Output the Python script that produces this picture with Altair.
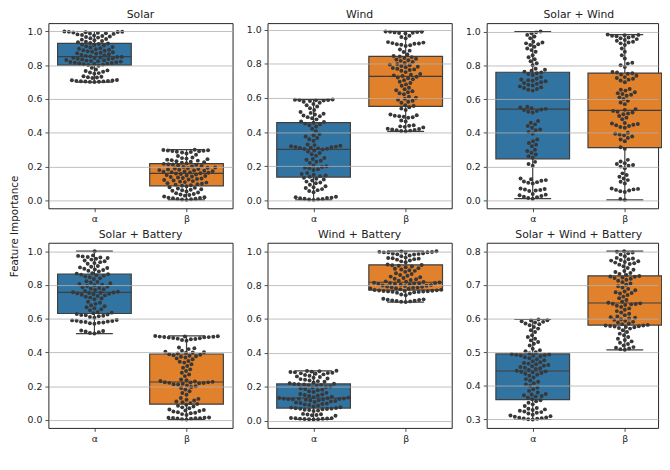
import math
import altair as alt
import pandas as pd

cats = ["α", "β"]
box_colors = ["#3274a1", "#e1812c"]
edge = "#3f3f3f"
pt_color = "#383838"

titles = ["Solar", "Wind", "Solar + Wind", "Solar + Battery", "Wind + Battery", "Solar + Wind + Battery"]

solar_a = [0.700,0.701,0.702,0.703,0.704,0.705,0.706,0.707,0.709,0.711,0.712,0.724,0.727,0.729,0.731,0.734,0.749,0.753,0.757,0.761,0.765,0.769,0.774,0.785,0.796,
           0.801,0.803,0.805,0.807,0.809,0.811,0.813,0.815,0.817,0.819,0.821,0.823,0.825,0.827,0.829,0.831,0.834,0.836,0.838,0.840,0.842,0.844,0.846,0.848,0.849,
           0.852,0.855,0.858,0.861,0.864,0.867,0.870,0.873,0.876,0.879,0.882,0.885,0.888,0.891,0.894,0.897,0.900,0.904,0.908,0.912,0.916,0.919,0.922,0.925,0.928,
           0.931,0.935,0.939,0.943,0.947,0.951,0.955,0.959,0.963,0.967,0.970,0.973,0.976,0.979,0.982,0.985,0.987,0.989,0.991,0.993,0.995,0.996,0.997,0.998,0.999]
solar_b = [0.003,0.005,0.007,0.009,0.010,0.012,0.014,0.016,0.019,0.023,0.028,0.032,0.035,0.038,0.042,0.047,0.053,0.057,0.060,0.063,0.066,0.070,0.074,0.078,0.083,
           0.087,0.090,0.093,0.096,0.099,0.102,0.105,0.108,0.111,0.114,0.117,0.120,0.123,0.126,0.129,0.132,0.135,0.138,0.141,0.144,0.147,0.150,0.153,0.156,0.159,
           0.161,0.163,0.165,0.167,0.169,0.171,0.173,0.175,0.177,0.179,0.181,0.183,0.185,0.188,0.190,0.193,0.195,0.198,0.201,0.204,0.207,0.210,0.212,0.214,0.216,
           0.220,0.223,0.226,0.229,0.232,0.235,0.238,0.241,0.244,0.247,0.250,0.254,0.262,0.270,0.278,0.283,0.286,0.288,0.290,0.292,0.294,0.295,0.296,0.298,0.300]
wind_a = [0.003,0.005,0.007,0.008,0.010,0.012,0.014,0.016,0.018,0.021,0.048,0.055,0.060,0.066,0.072,0.077,0.083,0.092,0.100,0.105,0.110,0.116,0.122,0.127,0.132,
          0.138,0.142,0.146,0.150,0.155,0.160,0.178,0.183,0.188,0.192,0.196,0.200,0.205,0.220,0.226,0.232,0.238,0.243,0.248,0.262,0.270,0.278,0.286,0.292,0.298,
          0.301,0.303,0.305,0.307,0.309,0.311,0.313,0.315,0.317,0.320,0.324,0.328,0.350,0.358,0.366,0.374,0.382,0.389,0.405,0.420,0.433,0.441,0.446,0.450,0.455,
          0.459,0.463,0.475,0.482,0.488,0.493,0.498,0.503,0.508,0.513,0.518,0.530,0.540,0.550,0.558,0.565,0.572,0.578,0.582,0.585,0.587,0.588,0.589,0.590,0.591]
wind_b = [0.405,0.407,0.409,0.411,0.413,0.415,0.418,0.420,0.428,0.431,0.434,0.437,0.440,0.462,0.468,0.484,0.487,0.490,0.493,0.496,0.499,0.503,0.530,0.538,0.546,
          0.553,0.558,0.572,0.578,0.584,0.590,0.596,0.602,0.608,0.622,0.628,0.634,0.640,0.646,0.652,0.660,0.672,0.680,0.688,0.696,0.704,0.710,0.716,0.720,0.725,
          0.729,0.733,0.737,0.741,0.752,0.760,0.764,0.768,0.772,0.776,0.780,0.784,0.788,0.792,0.796,0.800,0.806,0.812,0.818,0.822,0.826,0.830,0.835,0.840,0.844,
          0.847,0.855,0.870,0.878,0.885,0.905,0.909,0.912,0.915,0.918,0.920,0.922,0.925,0.928,0.950,0.958,0.965,0.978,0.981,0.983,0.985,0.987,0.988,0.989,0.990]
sw_a = [0.010,0.014,0.018,0.022,0.026,0.030,0.034,0.038,0.055,0.058,0.061,0.064,0.067,0.070,0.100,0.104,0.108,0.112,0.116,0.120,0.125,0.130,0.205,0.215,0.228,
        0.252,0.262,0.272,0.282,0.292,0.300,0.320,0.330,0.340,0.350,0.360,0.395,0.405,0.415,0.420,0.430,0.440,0.450,0.460,0.470,0.520,0.525,0.530,0.535,0.538,
        0.542,0.546,0.550,0.555,0.650,0.655,0.660,0.665,0.670,0.675,0.680,0.685,0.690,0.695,0.700,0.705,0.708,0.712,0.716,0.720,0.730,0.742,0.748,0.753,0.758,
        0.762,0.768,0.774,0.780,0.800,0.812,0.824,0.836,0.848,0.860,0.880,0.890,0.900,0.910,0.920,0.925,0.930,0.935,0.940,0.960,0.970,0.980,0.990,0.995,1.000]
sw_b = [0.003,0.008,0.050,0.054,0.058,0.062,0.065,0.068,0.070,0.100,0.110,0.120,0.130,0.140,0.150,0.160,0.190,0.200,0.205,0.210,0.215,0.220,0.230,0.240,0.305,
        0.315,0.350,0.360,0.370,0.378,0.385,0.390,0.395,0.400,0.430,0.435,0.440,0.445,0.448,0.452,0.455,0.458,0.480,0.490,0.500,0.510,0.515,0.520,0.525,0.530,
        0.536,0.540,0.570,0.580,0.590,0.600,0.610,0.620,0.625,0.630,0.635,0.640,0.650,0.655,0.660,0.700,0.710,0.715,0.720,0.725,0.730,0.738,0.745,0.750,0.753,
        0.757,0.760,0.790,0.800,0.810,0.815,0.840,0.860,0.880,0.900,0.920,0.930,0.935,0.940,0.945,0.950,0.955,0.960,0.965,0.970,0.972,0.975,0.978,0.980,0.982]
sb_a = [0.512,0.515,0.520,0.524,0.527,0.530,0.570,0.573,0.576,0.578,0.580,0.582,0.584,0.586,0.588,0.590,0.592,0.606,0.610,0.614,0.617,0.620,0.622,0.625,0.628,
        0.632,0.636,0.640,0.650,0.656,0.662,0.668,0.674,0.680,0.688,0.695,0.700,0.715,0.720,0.725,0.730,0.734,0.738,0.742,0.745,0.748,0.750,0.752,0.754,0.755,
        0.757,0.760,0.764,0.770,0.774,0.778,0.782,0.786,0.790,0.794,0.798,0.802,0.806,0.810,0.814,0.818,0.822,0.835,0.840,0.845,0.850,0.855,0.858,0.861,0.864,
        0.867,0.870,0.880,0.884,0.888,0.892,0.896,0.900,0.904,0.908,0.912,0.925,0.930,0.935,0.940,0.945,0.950,0.955,0.960,0.963,0.966,0.969,0.972,0.975,1.000]
sb_b = [0.003,0.005,0.007,0.009,0.010,0.011,0.012,0.013,0.014,0.015,0.030,0.035,0.040,0.043,0.046,0.050,0.053,0.056,0.059,0.062,0.070,0.075,0.080,0.085,0.090,
        0.095,0.100,0.105,0.110,0.115,0.120,0.125,0.130,0.150,0.160,0.170,0.180,0.190,0.195,0.200,0.205,0.210,0.212,0.215,0.217,0.219,0.220,0.222,0.223,0.224,
        0.226,0.228,0.231,0.235,0.240,0.260,0.270,0.280,0.290,0.300,0.310,0.320,0.330,0.340,0.345,0.350,0.360,0.365,0.370,0.375,0.378,0.381,0.384,0.387,0.390,
        0.394,0.398,0.400,0.402,0.405,0.410,0.420,0.425,0.430,0.470,0.474,0.478,0.480,0.482,0.484,0.486,0.488,0.490,0.491,0.492,0.493,0.494,0.495,0.496,0.498]
wb_a = [0.008,0.009,0.010,0.011,0.012,0.013,0.014,0.015,0.016,0.017,0.030,0.033,0.035,0.037,0.039,0.041,0.058,0.061,0.064,0.066,0.068,0.070,0.071,0.072,0.074,
        0.076,0.078,0.080,0.085,0.090,0.093,0.096,0.099,0.102,0.105,0.108,0.111,0.114,0.117,0.120,0.122,0.124,0.126,0.127,0.128,0.129,0.130,0.131,0.132,0.133,
        0.135,0.137,0.140,0.143,0.146,0.149,0.152,0.155,0.158,0.165,0.170,0.175,0.180,0.184,0.188,0.192,0.196,0.200,0.203,0.206,0.209,0.212,0.214,0.216,0.217,
        0.219,0.222,0.226,0.230,0.234,0.238,0.242,0.246,0.250,0.254,0.258,0.262,0.266,0.270,0.274,0.278,0.280,0.282,0.284,0.286,0.288,0.290,0.292,0.294,0.295]
wb_b = [0.700,0.702,0.704,0.706,0.708,0.710,0.712,0.714,0.716,0.720,0.740,0.745,0.750,0.755,0.758,0.760,0.761,0.762,0.763,0.764,0.765,0.766,0.767,0.768,0.769,
        0.771,0.773,0.775,0.778,0.780,0.782,0.784,0.786,0.788,0.790,0.792,0.794,0.796,0.798,0.800,0.802,0.804,0.806,0.808,0.810,0.811,0.812,0.813,0.814,0.816,
        0.818,0.820,0.822,0.826,0.830,0.834,0.838,0.842,0.846,0.850,0.855,0.860,0.865,0.870,0.878,0.884,0.888,0.892,0.896,0.900,0.905,0.910,0.914,0.917,0.919,
        0.921,0.935,0.940,0.945,0.950,0.953,0.956,0.958,0.960,0.962,0.970,0.975,0.980,0.982,0.984,0.986,0.988,0.990,0.992,0.993,0.994,0.995,0.996,0.998,1.000]
swb_a = [0.300,0.301,0.302,0.303,0.304,0.305,0.306,0.308,0.310,0.312,0.314,0.318,0.320,0.322,0.324,0.326,0.328,0.330,0.332,0.334,0.340,0.345,0.350,0.354,0.357,
         0.360,0.365,0.368,0.370,0.372,0.374,0.376,0.380,0.385,0.390,0.395,0.400,0.404,0.408,0.412,0.416,0.420,0.425,0.430,0.433,0.436,0.438,0.440,0.442,0.443,
         0.445,0.447,0.450,0.452,0.454,0.456,0.458,0.460,0.462,0.464,0.466,0.468,0.470,0.473,0.476,0.479,0.482,0.485,0.487,0.489,0.490,0.491,0.492,0.493,0.494,
         0.497,0.500,0.503,0.506,0.510,0.520,0.525,0.530,0.535,0.540,0.545,0.550,0.560,0.565,0.570,0.575,0.580,0.583,0.585,0.588,0.590,0.592,0.594,0.595,0.597]
swb_b = [0.507,0.509,0.511,0.513,0.515,0.520,0.524,0.528,0.532,0.536,0.540,0.545,0.550,0.555,0.560,0.565,0.570,0.572,0.574,0.575,0.576,0.577,0.578,0.579,0.579,
         0.581,0.583,0.585,0.588,0.590,0.593,0.596,0.598,0.600,0.602,0.604,0.606,0.610,0.614,0.618,0.622,0.626,0.630,0.634,0.638,0.640,0.642,0.643,0.644,0.645,
         0.647,0.650,0.655,0.660,0.665,0.670,0.674,0.676,0.678,0.680,0.684,0.688,0.692,0.696,0.700,0.704,0.708,0.712,0.715,0.718,0.720,0.722,0.724,0.725,0.726,
         0.729,0.732,0.735,0.738,0.741,0.745,0.750,0.755,0.760,0.762,0.764,0.766,0.768,0.770,0.772,0.774,0.776,0.778,0.780,0.785,0.790,0.794,0.796,0.798,0.800]

series = [(solar_a, solar_b), (wind_a, wind_b), (sw_a, sw_b), (sb_a, sb_b), (wb_a, wb_b), (swb_a, swb_b)]
ticks_std = [0.0, 0.2, 0.4, 0.6, 0.8, 1.0]
ticks_swb = [0.3, 0.4, 0.5, 0.6, 0.7, 0.8]
yticks = [ticks_std] * 5 + [ticks_swb]

W, H = 187, 188
W_LAST = 174          # right column is cut by the page edge, as in the reference
DIAM = 4.6
HALF = 0.4  # half box width in category units


def swarm_offsets(vals, px_per_unit):
    ys = [v * px_per_unit for v in vals]
    order = sorted(range(len(vals)), key=lambda i: ys[i])
    placed = []
    offs = [0.0] * len(vals)
    for i in order:
        y = ys[i]
        neigh = [(px, py) for px, py in placed if abs(py - y) < DIAM]
        cands = [0.0]
        for px, py in neigh:
            dx = math.sqrt(max(DIAM * DIAM - (py - y) ** 2, 0.0))
            cands += [px + dx, px - dx]
        cands.sort(key=lambda c: (abs(c), c))
        chosen = cands[-1]
        for c in cands:
            if all((c - px) ** 2 + (y - py) ** 2 >= DIAM * DIAM - 1e-6 for px, py in neigh):
                chosen = c
                break
        placed.append((chosen, y))
        offs[i] = chosen
    return offs


def panel(k):
    a, b = series[k]
    lo = min(min(a), min(b))
    hi = max(max(a), max(b))
    r = hi - lo
    dom = [lo - 0.05 * r, hi + 0.05 * r]
    ypx = H / (dom[1] - dom[0])
    xpx = W / 2.0
    last = k % 3 == 2
    width = W_LAST if last else W
    xmax = -0.5 + width / xpx
    rows = []
    for idx, vals in enumerate([a, b]):
        offs = swarm_offsets(vals, ypx)
        for v, o in zip(vals, offs):
            xo = max(-HALF, min(HALF, o / xpx))
            rows.append({"cat": cats[idx], "idx": idx, "value": v, "xs": idx + xo})
    df = pd.DataFrame(rows)

    xs = alt.Scale(domain=[-0.5, xmax], nice=False, zero=False)
    xa = alt.Axis(values=[0, 1], labelExpr=f"datum.value < 0.5 ? '{cats[0]}' : '{cats[1]}'",
                  title=None, grid=False, labelAngle=0, labelPadding=2, minExtent=16, maxExtent=16)
    ys = alt.Scale(domain=dom, nice=False, zero=False)
    ya = alt.Axis(values=yticks[k], format=".1f", title=None, grid=True, zindex=1, labelPadding=3,
                  minExtent=21, maxExtent=21)

    base = alt.Chart(df)
    stats = base.transform_aggregate(
        q1="q1(value)", q3="q3(value)", med="median(value)", lo="min(value)", hi="max(value)",
        groupby=["cat", "idx"]
    ).transform_calculate(
        xl=f"datum.idx - {HALF}", xr=f"datum.idx + {HALF}",
        cl=f"datum.idx - {HALF / 2}", cr=f"datum.idx + {HALF / 2}"
    )
    whisk = stats.mark_rule(color=edge, strokeWidth=1.2).encode(
        x=alt.X("idx:Q", scale=xs, axis=xa), y=alt.Y("lo:Q", scale=ys, axis=ya), y2="hi:Q")
    box = stats.mark_rect(stroke=edge, strokeWidth=1.2).encode(
        x=alt.X("xl:Q", scale=xs, axis=xa), x2="xr:Q",
        y=alt.Y("q1:Q", scale=ys, axis=ya), y2="q3:Q",
        color=alt.Color("cat:N", scale=alt.Scale(domain=cats, range=box_colors), legend=None))
    med = stats.mark_rule(color=edge, strokeWidth=1.2).encode(
        x=alt.X("xl:Q", scale=xs, axis=xa), x2="xr:Q", y=alt.Y("med:Q", scale=ys, axis=ya))
    cap_lo = stats.mark_rule(color=edge, strokeWidth=1.2).encode(
        x=alt.X("cl:Q", scale=xs, axis=xa), x2="cr:Q", y=alt.Y("lo:Q", scale=ys, axis=ya))
    cap_hi = stats.mark_rule(color=edge, strokeWidth=1.2).encode(
        x=alt.X("cl:Q", scale=xs, axis=xa), x2="cr:Q", y=alt.Y("hi:Q", scale=ys, axis=ya))
    pts = base.mark_circle(size=16, color=pt_color, opacity=1).encode(
        x=alt.X("xs:Q", scale=xs, axis=xa), y=alt.Y("value:Q", scale=ys, axis=ya))
    tp = dict(anchor="middle", frame="group")
    if last:
        tp["dx"] = (W - W_LAST) / 2
    return alt.layer(whisk, box, med, cap_lo, cap_hi, pts).properties(
        width=width, height=H, title=alt.TitleParams(titles[k], **tp))


row1 = alt.hconcat(panel(0), panel(1), panel(2), spacing=11.5)
row2 = alt.hconcat(panel(3), panel(4), panel(5), spacing=11.5)
chart = alt.vconcat(row1, row2, spacing=3).properties(
    padding={"left": 2, "top": -3, "right": -1, "bottom": -3},
    title=alt.TitleParams("Feature Importance", orient="left", anchor="middle",
                          fontSize=10.5, offset=6, font="DejaVu Sans", fontWeight="normal", color="#222222"),
).configure_axis(
    labelFont="DejaVu Sans", labelFontSize=9.5, labelColor="#222222",
    tickColor="#222222", tickSize=3.5, tickWidth=0.8, domain=False,
    gridColor="#b0b0b0", gridWidth=0.8,
).configure_view(
    stroke="#262626", strokeWidth=1
).configure_title(
    font="DejaVu Sans", fontSize=11, fontWeight="normal", color="#222222", offset=3
)

chart.save("out.html", embed_options={"renderer": "svg", "actions": False})
